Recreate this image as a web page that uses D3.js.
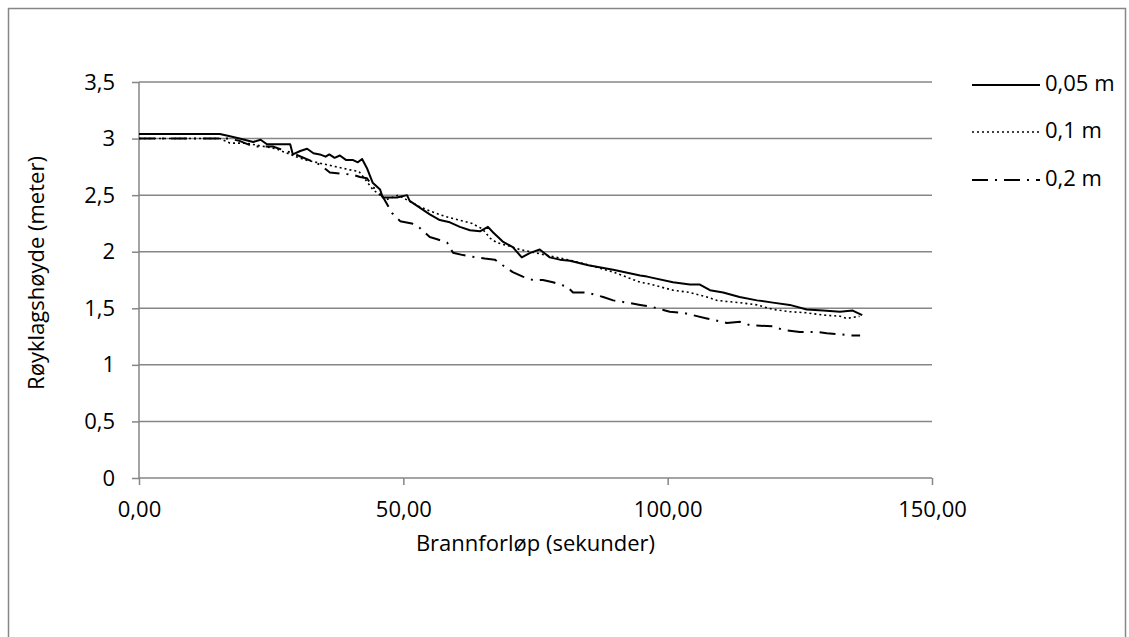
<!DOCTYPE html>
<html>
<head>
<meta charset="utf-8">
<script src="https://cdn.jsdelivr.net/npm/d3@7"></script>
<style>
  html, body { margin: 0; padding: 0; background: #fff; }
  svg { display: block; font-family: "Open Sans", "DejaVu Sans", sans-serif; }
</style>
</head>
<body>
<svg id="chart"></svg>
<script>
// series (time in seconds, height in metres)
const t005 = [0, 15.3, 17.2, 19, 21.6, 23, 24.2, 26, 28.6, 29.1, 30.5, 31.8, 33, 34.2, 35.3, 36, 37, 38, 39.2, 40.5, 41.4, 42.2, 43.1, 44.2, 45.6, 46.1, 47.5, 48.8, 50.7, 51.2, 53.1, 55.0, 56.9, 58.8, 60.7, 62.6, 64.5, 66.0, 67.0, 68.8, 70.7, 72.4, 74.0, 75.8, 77.7, 79.6, 81.5, 85, 89.7, 94.8, 96.1, 101, 104.2, 106.1, 108, 110.5, 113.6, 116.9, 119.9, 123.1, 126.3, 129.4, 132.6, 135, 136.8];
const h005 = [3.04, 3.04, 3.02, 3.0, 2.97, 2.99, 2.95, 2.95, 2.95, 2.86, 2.89, 2.91, 2.87, 2.86, 2.84, 2.86, 2.83, 2.85, 2.81, 2.81, 2.79, 2.82, 2.74, 2.61, 2.55, 2.48, 2.48, 2.48, 2.50, 2.45, 2.39, 2.33, 2.28, 2.26, 2.22, 2.19, 2.18, 2.22, 2.17, 2.09, 2.04, 1.95, 1.99, 2.02, 1.95, 1.93, 1.92, 1.88, 1.84, 1.79, 1.78, 1.73, 1.71, 1.71, 1.66, 1.64, 1.60, 1.57, 1.55, 1.53, 1.49, 1.48, 1.47, 1.48, 1.44];

const t01 = [0, 15.3, 17.2, 20.2, 25.9, 29.7, 31.6, 35.4, 40.3, 41.6, 43.1, 44.2, 46.8, 49, 51, 53, 55, 58, 60.5, 63, 65, 66.4, 67.7, 70, 72, 75, 78, 82, 86, 89.7, 94.8, 96.1, 101, 104.2, 107.4, 109.3, 111.2, 113.6, 116.9, 119.9, 123.1, 126.3, 129.4, 132.6, 133.9, 136.3];
const h01 = [3.0, 3.0, 2.96, 2.96, 2.91, 2.84, 2.81, 2.77, 2.72, 2.71, 2.62, 2.55, 2.46, 2.50, 2.45, 2.40, 2.36, 2.31, 2.28, 2.25, 2.20, 2.12, 2.08, 2.05, 2.02, 1.99, 1.96, 1.92, 1.87, 1.82, 1.73, 1.72, 1.66, 1.64, 1.60, 1.57, 1.56, 1.55, 1.53, 1.49, 1.47, 1.46, 1.44, 1.43, 1.41, 1.43];

const t02 = [0, 17, 19, 21.6, 25.3, 29.1, 34.2, 36.1, 40.5, 41.8, 43.1, 44.3, 46.2, 47.9, 49.4, 51.6, 53.1, 55.0, 56.4, 58.3, 59.4, 61.3, 63.9, 65.4, 67.3, 68.8, 70.7, 72.6, 74.5, 76.4, 78.3, 81.0, 82.1, 84.7, 87.8, 89.7, 92.3, 94.8, 97.2, 100.4, 102.9, 107.4, 111.2, 113.7, 115.6, 119.9, 121.8, 125.0, 128.2, 130.1, 132.6, 134.5, 136.4];
const h02 = [3.0, 3.0, 2.98, 2.93, 2.93, 2.87, 2.77, 2.70, 2.68, 2.66, 2.65, 2.57, 2.48, 2.34, 2.27, 2.25, 2.21, 2.13, 2.11, 2.08, 1.99, 1.97, 1.95, 1.94, 1.93, 1.88, 1.82, 1.78, 1.75, 1.75, 1.73, 1.69, 1.64, 1.64, 1.60, 1.57, 1.55, 1.53, 1.51, 1.47, 1.46, 1.41, 1.37, 1.38, 1.35, 1.34, 1.31, 1.29, 1.29, 1.28, 1.27, 1.26, 1.26];

const seriesNames = ["0,05 m", "0,1 m", "0,2 m"];
const seriesTimes = [t005, t01, t02];
const seriesHeights = [h005, h01, h02];

const xTicks = [0, 50, 100, 150];
const yTicks = [0, 0.5, 1, 1.5, 2, 2.5, 3, 3.5];

const xTitle = "Brannforløp (sekunder)";
const yTitle = "Røyklagshøyde (meter)";

// layout
const W = 1129, H = 637;
const plotLeft = 139, plotRight = 932, plotTop = 82, plotBottom = 478;
const AXIS_GREY = "#868686";
const FONT_SIZE = 22;

// dash styles per series: solid, dotted, long dash dot
const dashes = [null, "2,3", "16,7,2,7"];

const svg = d3.select("#chart").attr("width", W).attr("height", H);

// outer chart frame (runs off the bottom of the window)
svg.append("rect")
  .attr("x", 8.5)
  .attr("y", 8.5)
  .attr("width", 1117)
  .attr("height", 700)
  .style("fill", "#fff")
  .style("stroke", AXIS_GREY)
  .style("stroke-width", 1.5);

const x = d3.scaleLinear().domain([0, 150]).range([plotLeft, plotRight]);
const y = d3.scaleLinear().domain([0, 3.5]).range([plotBottom, plotTop]);

const fmtComma = (s) => s.replace(".", ",");

// horizontal gridlines
svg.append("g")
  .selectAll("line")
  .data(yTicks.filter((d) => d > 0))
  .join("line")
  .attr("x1", plotLeft)
  .attr("x2", plotRight)
  .attr("y1", (d) => y(d))
  .attr("y2", (d) => y(d))
  .style("stroke", AXIS_GREY)
  .style("stroke-width", 1.5);

// y axis
const yAxis = svg.append("g")
  .attr("transform", `translate(${plotLeft},0)`)
  .call(
    d3.axisLeft(y)
      .tickValues(yTicks)
      .tickSize(7)
      .tickPadding(17)
      .tickFormat((d) => fmtComma(String(d)))
  );

// x axis
const xAxis = svg.append("g")
  .attr("transform", `translate(0,${plotBottom})`)
  .call(
    d3.axisBottom(x)
      .tickValues(xTicks)
      .tickSize(7)
      .tickPadding(16)
      .tickFormat((d) => fmtComma(d3.format(".2f")(d)))
  );

[yAxis, xAxis].forEach((ax) => {
  ax.select(".domain").style("stroke", AXIS_GREY).style("stroke-width", 1.5);
  ax.selectAll(".tick line").style("stroke", AXIS_GREY).style("stroke-width", 1.5);
  ax.selectAll(".tick text")
    .style("font-family", "'Open Sans', sans-serif")
    .style("font-size", `${FONT_SIZE}px`)
    .style("fill", "#000");
});
// remove the domain's outer tick stubs so only the plain axis line is drawn
yAxis.select(".domain").attr("d", `M0,${plotBottom}V${plotTop}`);
xAxis.select(".domain").attr("d", `M${plotLeft},0H${plotRight}`);

// series lines
const line = d3.line()
  .x((d) => x(d[0]))
  .y((d) => y(d[1]));

seriesNames.forEach((name, i) => {
  const pts = seriesTimes[i].map((t, j) => [t, seriesHeights[i][j]]);
  svg.append("path")
    .datum(pts)
    .attr("d", line)
    .style("fill", "none")
    .style("stroke", "#000")
    .style("stroke-width", i === 1 ? 1.6 : 2)
    .style("stroke-linejoin", "round")
    .style("stroke-dasharray", dashes[i]);
});

// axis titles
svg.append("text")
  .attr("x", (plotLeft + plotRight) / 2)
  .attr("y", 545)
  .attr("text-anchor", "middle")
  .attr("dominant-baseline", "middle")
  .style("font-size", `${FONT_SIZE}px`)
  .text(xTitle);

svg.append("text")
  .attr("transform", `translate(38,${(plotTop + plotBottom) / 2 - 7}) rotate(-90)`)
  .attr("text-anchor", "middle")
  .attr("dominant-baseline", "middle")
  .style("font-size", `${FONT_SIZE}px`)
  .text(yTitle);

// legend
const legendY = [85, 132, 180];
const legend = svg.append("g");
seriesNames.forEach((name, i) => {
  legend.append("line")
    .attr("x1", 972)
    .attr("x2", 1040)
    .attr("y1", legendY[i])
    .attr("y2", legendY[i])
    .style("stroke", "#000")
    .style("stroke-width", i === 1 ? 1.6 : 2)
    .style("stroke-dasharray", dashes[i]);
  legend.append("text")
    .attr("x", 1045)
    .attr("y", legendY[i])
    .attr("dominant-baseline", "middle")
    .style("font-size", `${FONT_SIZE}px`)
    .text(name);
});
</script>
</body>
</html>
